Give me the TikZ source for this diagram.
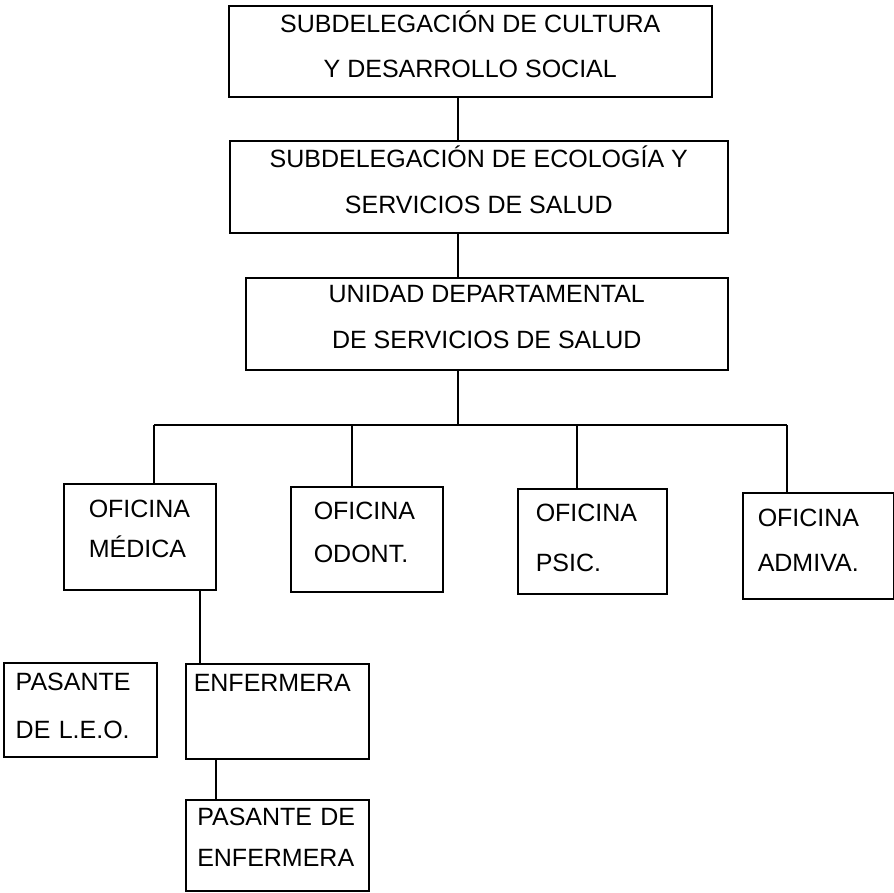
\documentclass[tikz,border=0pt]{standalone}
\usepackage{fontspec}
\setmainfont{Liberation Sans}
\begin{document}
\begin{tikzpicture}[x=1pt, y=-1pt, line width=1.5pt,
    jefatura/.style={draw, anchor=north west, align=center, inner sep=0pt,
      text depth=14pt, font=\fontsize{25}{45}\selectfont},
    oficina/.style 2 args={draw, anchor=north west, align=left, inner ysep=0pt,
      inner xsep=#1, text width=#2, text depth=56pt, font=\fontsize{25}{45}\selectfont}]
  \useasboundingbox (0,0) rectangle (894,892);

  % jefaturas
  \node [jefatura, minimum width=483pt, minimum height=91pt] (cultura) at (228,5)
    {SUBDELEGACIÓN DE CULTURA\\Y DESARROLLO SOCIAL};
  \node [jefatura, minimum width=498pt, minimum height=92pt] (ecologia) at (229,140)
    {SUBDELEGACIÓN DE ECOLOGÍA Y\\[1pt]SERVICIOS DE SALUD};
  \node [jefatura, minimum width=482pt, minimum height=92pt] (unidad) at (245,277)
    {UNIDAD DEPARTAMENTAL\\[1pt]DE SERVICIOS DE SALUD};

  % oficinas
  \node [oficina={25pt}{102pt}, minimum height=106pt] (medica) at (63,483)
    {OFICINA\\[-5pt]MÉDICA};
  \node [oficina={23pt}{106pt}, minimum height=105pt] (odont) at (290,486)
    {OFICINA\\[-2pt]ODONT.};
  \node [oficina={18pt}{113pt}, minimum height=105pt] (psic) at (517,488)
    {OFICINA\\[5pt]PSIC.};
  \node [oficina={15pt}{121pt}, minimum height=106pt] (admiva) at (742,492)
    {OFICINA\\ADMIVA.};

  % personal
  \node [oficina={12pt}{129pt}, minimum height=94pt] (leo) at (3,662)
    {PASANTE\\[3pt]DE L.E.O.};
  \node [oficina={8pt}{167pt}, minimum height=95pt] (enfermera) at (185,663)
    {ENFERMERA\\\null};
  \node [oficina={11.5pt}{160pt}, minimum height=91pt] (pasante) at (185,799)
    {PASANTE DE\\[-4pt]ENFERMERA};

  % lineas
  \coordinate (eje) at (458,0);
  \coordinate (r1) at (154,425);
  \coordinate (r2) at (352,425);
  \coordinate (r3) at (577,425);
  \coordinate (r4) at (787,425);
  \coordinate (r5) at (200,0);
  \coordinate (r6) at (216,0);

  \draw (cultura.south -| eje) -- (ecologia.north -| eje);
  \draw (ecologia.south -| eje) -- (unidad.north -| eje);
  \draw (unidad.south -| eje) -- (eje |- r1);
  \draw (r1) -- (r4);
  \draw (r1) -- (r1 |- medica.north);
  \draw (r2) -- (r2 |- odont.north);
  \draw (r3) -- (r3 |- psic.north);
  \draw (r4) -- (r4 |- admiva.north);
  \draw (medica.south -| r5) -- (enfermera.north -| r5);
  \draw (enfermera.south -| r6) -- (pasante.north -| r6);
\end{tikzpicture}
\end{document}
